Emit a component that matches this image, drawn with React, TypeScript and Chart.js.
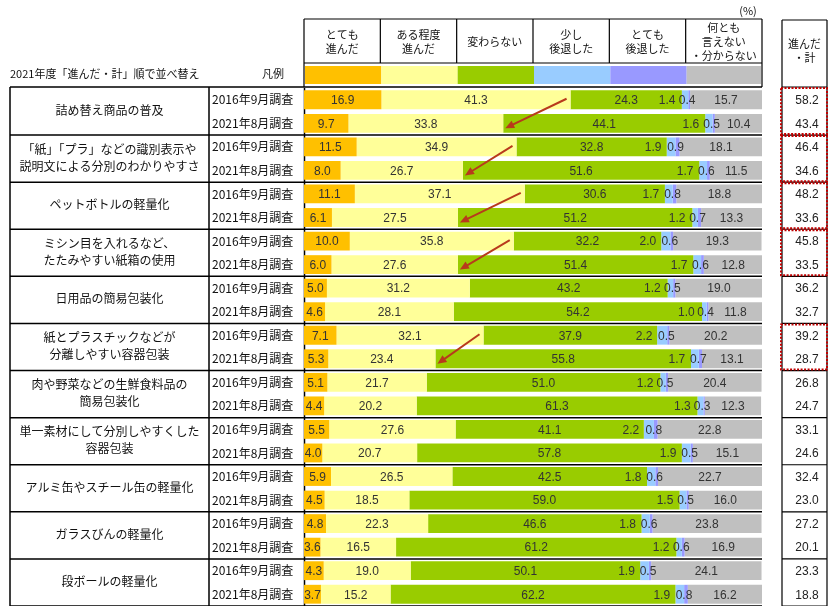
import React, { useEffect, useRef } from "react";
import { Chart, registerables } from "chart.js";

Chart.register(...registerables);

// ---- data ----
const categories = [
  "詰め替え商品の普及",
  "「紙」「プラ」などの識別表示や\n説明文による分別のわかりやすさ",
  "ペットボトルの軽量化",
  "ミシン目を入れるなど、\nたたみやすい紙箱の使用",
  "日用品の簡易包装化",
  "紙とプラスチックなどが\n分離しやすい容器包装",
  "肉や野菜などの生鮮食料品の\n簡易包装化",
  "単一素材にして分別しやすくした\n容器包装",
  "アルミ缶やスチール缶の軽量化",
  "ガラスびんの軽量化",
  "段ボールの軽量化",
];
const surveys = ["2016年9月調査", "2021年8月調査"];
const seriesNames = [
  "とても\n進んだ",
  "ある程度\n進んだ",
  "変わらない",
  "少し\n後退した",
  "とても\n後退した",
  "何とも\n言えない\n・分からない",
];
const veryAdvanced = [16.9, 9.7, 11.5, 8.0, 11.1, 6.1, 10.0, 6.0, 5.0, 4.6, 7.1, 5.3, 5.1, 4.4, 5.5, 4.0, 5.9, 4.5, 4.8, 3.6, 4.3, 3.7];
const somewhatAdvanced = [41.3, 33.8, 34.9, 26.7, 37.1, 27.5, 35.8, 27.6, 31.2, 28.1, 32.1, 23.4, 21.7, 20.2, 27.6, 20.7, 26.5, 18.5, 22.3, 16.5, 19.0, 15.2];
const unchanged = [24.3, 44.1, 32.8, 51.6, 30.6, 51.2, 32.2, 51.4, 43.2, 54.2, 37.9, 55.8, 51.0, 61.3, 41.1, 57.8, 42.5, 59.0, 46.6, 61.2, 50.1, 62.2];
const slightlyRegressed = [1.4, 1.6, 1.9, 1.7, 1.7, 1.2, 2.0, 1.7, 1.2, 1.0, 2.2, 1.7, 1.2, 1.3, 2.2, 1.9, 1.8, 1.5, 1.8, 1.2, 1.9, 1.9];
const veryRegressed = [0.4, 0.5, 0.9, 0.6, 0.8, 0.7, 0.6, 0.6, 0.5, 0.4, 0.5, 0.7, 0.5, 0.3, 0.8, 0.5, 0.6, 0.5, 0.6, 0.6, 0.5, 0.8];
const cannotSay = [15.7, 10.4, 18.1, 11.5, 18.8, 13.3, 19.3, 12.8, 19.0, 11.8, 20.2, 13.1, 20.4, 12.3, 22.8, 15.1, 22.7, 16.0, 23.8, 16.9, 24.1, 16.2];
const advancedTotal = [58.2, 43.4, 46.4, 34.6, 48.2, 33.6, 45.8, 33.5, 36.2, 32.7, 39.2, 28.7, 26.8, 24.7, 33.1, 24.6, 32.4, 23.0, 27.2, 20.1, 23.3, 18.8];
const highlightGroups = [0, 1, 2, 3, 5];

const seriesColors = ["#FFC000", "#FFFF99", "#99CC00", "#99CCFF", "#9999FF", "#C0C0C0"];
const labelOffsets = [0, 0, 0, -18, -2, 0];

const JP = '"Noto Sans CJK JP", "Noto Sans", sans-serif';
const NUM = '"Liberation Sans", Arial, sans-serif';

const rowLabels = categories.flatMap((_, g) => surveys.map((s) => `${g}:${s}`));

function multiline(ctx: CanvasRenderingContext2D, text: string, x: number, cy: number, lh: number) {
  const lines = text.split("\n");
  const start = cy - ((lines.length - 1) * lh) / 2;
  lines.forEach((l, i) => ctx.fillText(l, x, start + i * lh));
}

const tablePlugin = {
  id: "tablePlugin",
  beforeDatasetsDraw(chart: any) {
    const { ctx, chartArea } = chart;
    ctx.save();
    ctx.strokeStyle = "#000";
    ctx.lineWidth = 1.5;
    ctx.beginPath();
    ctx.moveTo(chartArea.left + 0.5, chartArea.top);
    ctx.lineTo(chartArea.left + 0.5, chartArea.bottom);
    ctx.stroke();
    ctx.restore();
  },
  afterDatasetsDraw(chart: any) {
    const { ctx, chartArea, scales } = chart;
    const ys = scales.y;
    const L = chartArea.left;
    const R = chartArea.right;
    const colW = (R - L) / 6;
    const rowH = ys.getPixelForValue(1) - ys.getPixelForValue(0);
    const rowTop = (i: number) => ys.getPixelForValue(i) - rowH / 2;
    ctx.save();

    // data labels
    ctx.font = `12px ${NUM}`;
    ctx.fillStyle = "#333";
    ctx.textAlign = "center";
    ctx.textBaseline = "middle";
    chart.data.datasets.forEach((ds: any, di: number) => {
      const meta = chart.getDatasetMeta(di);
      meta.data.forEach((el: any, i: number) => {
        const cx = (el.x + el.base) / 2 + labelOffsets[di];
        ctx.fillText(ds.data[i].toFixed(1), cx, el.y + 1);
      });
    });

    // arrows
    const metaY = chart.getDatasetMeta(1);
    ctx.strokeStyle = "#B83A1C";
    ctx.fillStyle = "#B83A1C";
    ctx.lineWidth = 2;
    highlightGroups.forEach((g) => {
      const a = metaY.data[2 * g];
      const b = metaY.data[2 * g + 1];
      const x1 = a.x - 4, y1 = a.y - 1;
      const x2 = b.x + 2, y2 = b.y + 5;
      const ang = Math.atan2(y2 - y1, x2 - x1);
      ctx.beginPath();
      ctx.moveTo(x1, y1);
      ctx.lineTo(x2 - 6 * Math.cos(ang), y2 - 6 * Math.sin(ang));
      ctx.stroke();
      ctx.beginPath();
      ctx.moveTo(x2, y2);
      ctx.lineTo(x2 - 9 * Math.cos(ang) + 4 * Math.sin(ang), y2 - 9 * Math.sin(ang) - 4 * Math.cos(ang));
      ctx.lineTo(x2 - 9 * Math.cos(ang) - 4 * Math.sin(ang), y2 - 9 * Math.sin(ang) + 4 * Math.cos(ang));
      ctx.closePath();
      ctx.fill();
    });

    // left table
    ctx.strokeStyle = "#000";
    ctx.lineWidth = 1.5;
    const tLeft = 10;
    const tMid = 209;
    const top = rowTop(0) - 1;
    ctx.beginPath();
    for (let g = 0; g <= categories.length; g++) {
      const y = g === 0 ? top : rowTop(2 * g);
      ctx.moveTo(tLeft, y);
      ctx.lineTo(R, y);
    }
    ctx.moveTo(tLeft, top);
    ctx.lineTo(tLeft, chartArea.bottom);
    ctx.moveTo(tMid, top);
    ctx.lineTo(tMid, chartArea.bottom);
    ctx.stroke();

    ctx.fillStyle = "#111";
    ctx.textAlign = "center";
    ctx.font = `12px ${JP}`;
    categories.forEach((c, g) => {
      const cy = (ys.getPixelForValue(2 * g) + ys.getPixelForValue(2 * g + 1)) / 2 - 1;
      multiline(ctx, c, (tLeft + tMid) / 2, cy, 17);
    });
    ctx.textAlign = "left";
    rowLabels.forEach((_, i) => {
      ctx.fillText(surveys[i % 2], 212, ys.getPixelForValue(i));
    });

    // header
    const hTop = 19;
    const hBot = 63;
    ctx.lineWidth = 1.2;
    ctx.beginPath();
    ctx.moveTo(L, hTop);
    ctx.lineTo(R, hTop);
    ctx.moveTo(L, hBot);
    ctx.lineTo(R, hBot);
    for (let i = 0; i <= 6; i++) {
      const x = L + i * colW;
      ctx.moveTo(x, hTop);
      ctx.lineTo(x, i === 0 || i === 6 ? top : hBot);
    }
    ctx.stroke();
    ctx.font = `11px ${JP}`;
    ctx.textAlign = "center";
    ctx.fillStyle = "#111";
    seriesNames.forEach((n, i) => {
      multiline(ctx, n, L + (i + 0.5) * colW, 41.5, 14);
      ctx.fillStyle = seriesColors[i];
      ctx.fillRect(L + i * colW + 1, 66, colW - (i === 5 ? 2 : 0), 18);
      ctx.fillStyle = "#111";
    });
    ctx.fillText("(%)", 748, 11);
    ctx.textAlign = "left";
    ctx.fillText("2021年度「進んだ・計」順で並べ替え", 10, 74);
    ctx.fillText("凡例", 262, 74);

    // right table
    const rL = 782;
    const rR = 827;
    ctx.strokeStyle = "#000";
    ctx.lineWidth = 1.2;
    ctx.beginPath();
    ctx.moveTo(rL, 20);
    ctx.lineTo(rR, 20);
    ctx.moveTo(rL, 20);
    ctx.lineTo(rL, chartArea.bottom);
    ctx.moveTo(rR, 20);
    ctx.lineTo(rR, chartArea.bottom);
    for (let g = 0; g <= categories.length; g++) {
      const y = g === 0 ? top : rowTop(2 * g);
      ctx.moveTo(rL, y);
      ctx.lineTo(rR, y);
    }
    ctx.stroke();
    ctx.textAlign = "center";
    ctx.font = `11px ${JP}`;
    multiline(ctx, "進んだ\n・計", (rL + rR) / 2, 51, 14);
    ctx.font = `12px ${NUM}`;
    ctx.fillStyle = "#222";
    advancedTotal.forEach((v, i) => {
      ctx.fillText(v.toFixed(1), 807, ys.getPixelForValue(i) + 1);
    });
    ctx.strokeStyle = "#C00000";
    ctx.lineWidth = 2;
    ctx.setLineDash([2, 1.5]);
    highlightGroups.forEach((g) => {
      const y0 = g === 0 ? top : rowTop(2 * g);
      const y1 = rowTop(2 * g + 2);
      ctx.strokeRect(rL - 1, y0 + 1, rR - rL + 1, y1 - y0 - 2);
    });
    ctx.restore();
  },
};

export default function App() {
  const ref = useRef<HTMLCanvasElement | null>(null);
  useEffect(() => {
    document.body.style.margin = "0";
    const series = [veryAdvanced, somewhatAdvanced, unchanged, slightlyRegressed, veryRegressed, cannotSay];
    const chart = new Chart(ref.current as HTMLCanvasElement, {
      type: "bar",
      data: {
        labels: rowLabels,
        datasets: series.map((d, i) => ({
          label: seriesNames[i].replace(/\n/g, ""),
          data: d,
          backgroundColor: seriesColors[i],
          borderWidth: 0,
          barPercentage: 0.8,
          categoryPercentage: 1,
        })),
      },
      options: {
        indexAxis: "y",
        responsive: false,
        animation: false,
        layout: { padding: { left: 304, right: 72, top: 88, bottom: 0 } },
        plugins: { legend: { display: false }, tooltip: { enabled: false } },
        scales: {
          x: { stacked: true, min: 0, max: 100, display: false },
          y: { stacked: true, display: false },
        },
      },
      plugins: [tablePlugin],
    } as any);
    return () => chart.destroy();
  }, []);
  return (
    <div style={{ width: 834, height: 606, background: "#fff" }}>
      <canvas ref={ref} width={834} height={606} style={{ display: "block" }} />
    </div>
  );
}
